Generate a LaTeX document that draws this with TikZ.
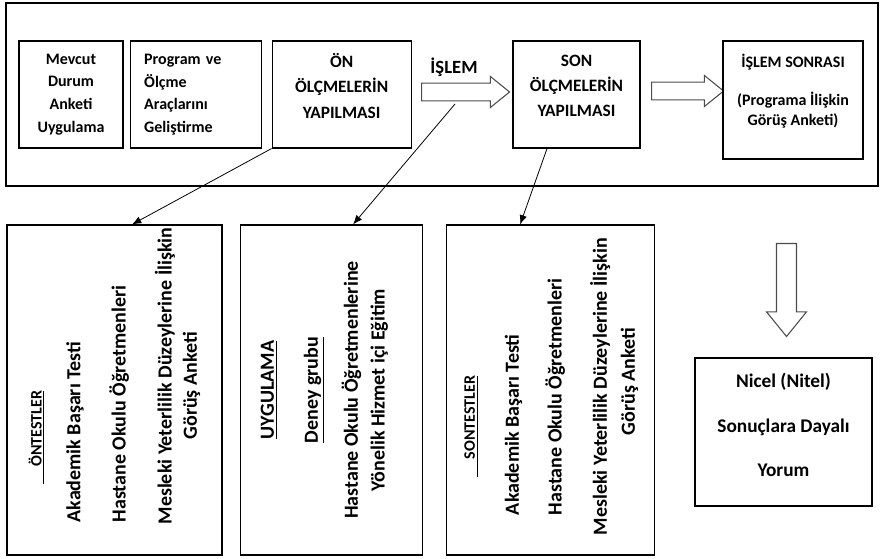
\documentclass[tikz,border=0pt]{standalone}
\usepackage{fontspec}
\setmainfont{Carlito}
\usepackage{graphicx}
\usetikzlibrary{arrows.meta, positioning, shapes.arrows}
\tikzset{
    stagebox/.style={
        rectangle,
        draw=black,
        line width=0.8pt,
        align=center,
        inner sep=0pt,
        minimum height=80.25pt,
        font=\bfseries\fontsize{12}{17}\selectfont
    },
    testbox/.style={
        rectangle,
        draw=black,
        line width=0.8pt,
        inner sep=0pt,
        minimum height=247.5pt,
        font=\bfseries\fontsize{15}{18}\selectfont
    },
    blockarrow/.style={
        single arrow,
        draw=black!70,
        fill=white,
        line width=0.8pt,
        inner xsep=0pt,
        inner ysep=6.2pt,
        minimum width=22.5pt,
        single arrow head extend=5pt,
        single arrow tip angle=78
    },
    testline/.style={
        -{Latex[length=7pt, width=5.5pt]},
        line width=0.6pt
    }
}

\begin{document}
\begin{tikzpicture}[x=0.75pt, y=-0.75pt]
    \useasboundingbox (0,0) rectangle (880,559);
    \node[draw=black, line width=0.8pt, inner sep=0pt, minimum width=654pt, minimum height=137.25pt] (frame) at (442,94.5) {};

    \node[stagebox, minimum width=78pt] (mevcut) at (71,94.5) {Mevcut\\Durum\\Anketi\\Uygulama};
    \node[stagebox, minimum width=98.25pt, text width=77pt, align=left, right=4.5pt of mevcut] (program) {Program ve\\Ölçme\\Araçlarını\\Geliştirme};
    \node[stagebox, minimum width=104.25pt, right=7.5pt of program, font=\bfseries\fontsize{13}{19}\selectfont] (onolcme) {ÖN\\ÖLÇMELERİN\\YAPILMASI\\[-6pt]\mbox{}};
    \node[blockarrow, minimum height=66pt, anchor=tail] (islem) at (421,92) {};
    \node[font=\bfseries\fontsize{14}{17}\selectfont] (islemlabel) at (454,67) {İŞLEM};
    \node[stagebox, minimum width=95.25pt, font=\bfseries\fontsize{13}{19}\selectfont] (sonolcme) at (576.5,94.5) {SON\\ÖLÇMELERİN\\YAPILMASI\\[-6pt]\mbox{}};
    \node[blockarrow, minimum height=54pt, anchor=tail] (sonrasiok) at (651,91) {};
    \node[stagebox, minimum width=105pt, minimum height=88.5pt, font=\bfseries\fontsize{12}{14.5}\selectfont] (sonrasi) at (793,100) {İŞLEM SONRASI\\[14.5pt](Programa İlişkin\\Görüş Anketi)\\[1.5pt]\mbox{}};

    \node[testbox, minimum width=161.25pt] (ontest) at (114.5,390) {\rotatebox{90}{\begin{tabular}{@{\hspace*{21pt}}l@{}}
        \hspace*{30pt}{\fontsize{12}{14}\selectfont\underline{\hspace*{13.5pt}ÖNTESTLER}}\\[11pt]
        \hspace*{1.5pt}Akademik Başarı Testi\\[16pt]
        \hspace*{1.5pt}Hastane Okulu Öğretmenleri\\[16.5pt]
        Mesleki Yeterlilik Düzeylerine İlişkin\\[1pt]
        \hspace*{63.75pt}Görüş Anketi
    \end{tabular}}};
    \node[testbox, minimum width=136.5pt, right=12.75pt of ontest] (uygulama) {\rotatebox{90}{\begin{tabular}{c}
        \underline{UYGULAMA}\\[15pt]
        \underline{Deney grubu}\\[12pt]
        Hastane Okulu Öğretmenlerine\\[2pt]
        Yönelik Hizmet içi Eğitim\\[10pt]
    \end{tabular}}};
    \node[testbox, minimum width=156pt, right=17.25pt of uygulama] (sontest) {\rotatebox{90}{\begin{tabular}{@{\hspace*{5pt}}l@{}}
        \hspace*{43.5pt}{\fontsize{12}{14}\selectfont\underline{\hspace*{13.5pt}SONTESTLER}}\\[15pt]
        \hspace*{15pt}Akademik Başarı Testi\\[14pt]
        \hspace*{15pt}Hastane Okulu Öğretmenleri\\[16pt]
        Mesleki Yeterlilik Düzeylerine İlişkin\\[3pt]
        \hspace*{75pt}Görüş Anketi
    \end{tabular}}};

    \node[blockarrow, minimum height=69.75pt, minimum width=29.25pt, inner ysep=7.1pt, single arrow head extend=7.5pt, rotate=-90, anchor=tail] (sonucok) at (786.5,243) {};
    \node[stagebox, minimum width=132.75pt, minimum height=111pt, font=\bfseries\fontsize{14.5}{17.5}\selectfont] (yorum) at (783.5,432) {Nicel (Nitel)\\[16pt]Sonuçlara Dayalı\\[16pt]Yorum\\[-7pt]\mbox{}};

    \draw[testline] (onolcme.south west) -- ([xshift=13.1pt]ontest.north);
    \draw[testline] ([xshift=25.5pt,yshift=-9pt]islem.tail) -- ([xshift=16.5pt]uygulama.north);
    \draw[testline] ([xshift=-22.1pt]sonolcme.south) -- ([xshift=-22.5pt]sontest.north);
\end{tikzpicture}
\end{document}
